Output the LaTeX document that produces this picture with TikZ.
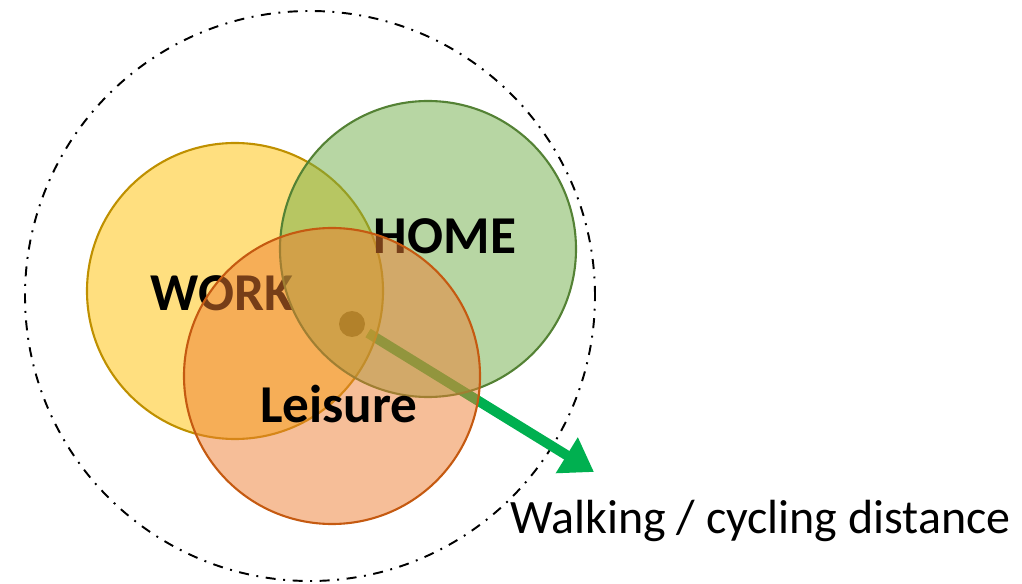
\documentclass[tikz,border=0pt]{standalone}
\usepackage{fontspec}
\setmainfont{Carlito}
\usetikzlibrary{arrows.meta}
\definecolor{wfill}{HTML}{FFC000}
\definecolor{wdraw}{HTML}{BF9000}
\definecolor{hfill}{HTML}{70AD47}
\definecolor{hdraw}{HTML}{548235}
\definecolor{lfill}{HTML}{ED7D31}
\definecolor{ldraw}{HTML}{C55A11}
\definecolor{arrowgreen}{HTML}{00B050}
\begin{document}
\begin{tikzpicture}[x=0.02cm,y=-0.02cm,
  zone/.style={circle, inner sep=0pt, minimum size=296*0.02cm, line width=1.2pt, fill opacity=0.5},
  lbl/.style={font=\bfseries\fontsize{30.3}{33}\selectfont, text=black, inner sep=0pt},
  reach/.style={circle, draw=black, line width=1.1pt, inner sep=0pt, minimum size=570*0.02cm,
    dash pattern=on 5.7pt off 4.3pt on 1.1pt off 4.3pt}]
\useasboundingbox (0,0) rectangle (1022,584);
\node[reach] (outer) at (310,296) {};
\node[circle, fill=black, inner sep=0pt, minimum size=26*0.02cm] (dot) at (352,324) {};
\coordinate (tip) at (594,472);
\draw[arrowgreen, line width=5.7pt, -{Triangle[length=32*0.02cm, width=40*0.02cm]}]
  (dot.center) ++(16,9) -- (tip);
\node[zone, fill=wfill, draw=wdraw] (work) at (235,291) {};
\node[lbl] (worklbl) at (222,293) {WORK};
\node[zone, fill=hfill, draw=hdraw] (home) at (428,249) {};
\node[lbl] (homelbl) at (445,236) {HOME};
\node[zone, fill=lfill, draw=ldraw] (leisure) at (332,376) {};
\node[lbl] (leisurelbl) at (339,404) {Leisure};
\node[font=\fontsize{27.3}{30}\selectfont, inner sep=0pt, anchor=base west] (dist) at (510,533) {Walking / cycling distance};
\end{tikzpicture}
\end{document}
